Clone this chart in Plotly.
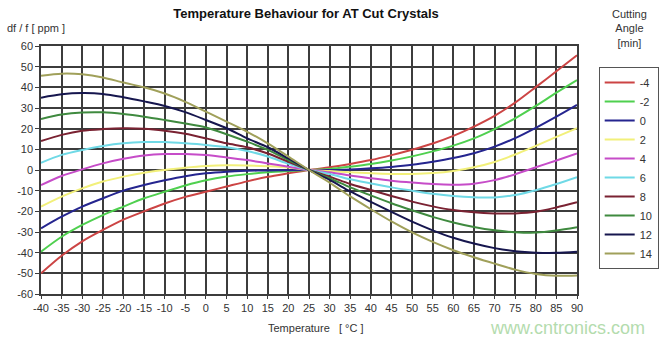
import plotly.graph_objects as go

# Temperature axis (°C)
temperature = list(range(-40, 95, 5))

# Cutting angle offsets (minutes of arc) and matching colours
angles = ["-4", "-2", "0", "2", "4", "6", "8", "10", "12", "14"]
colors = ["#cc4444", "#4fd04f", "#25258f", "#f2f07a", "#c64cc8",
          "#6fd9e6", "#7a2232", "#3f8a3f", "#16164e", "#a0a05a"]

# Frequency deviation df/f in ppm, one list per cutting angle
dev_m4 = [-50, -41.5, -34.5, -29, -24, -20, -16.2, -13, -10.5, -8, -5.5, -3.3, -1.6,
          0, 1.3, 2.9, 4.8, 7.2, 9.8, 12.8, 16.5, 21, 26.2, 32.6, 40.1, 47.8, 55.5]
dev_m2 = [-39.5, -32.3, -26.6, -21.8, -17.7, -13.7, -10.5, -7.5, -5, -3.2, -2, -1.1, -0.5,
          0, 0.5, 1.6, 2.9, 4.6, 6.6, 9, 11.8, 15.3, 19.8, 25, 31, 37.4, 43.5]
dev_0 = [-28.2, -22.6, -17.7, -13.7, -10, -7.3, -5, -3, -1.6, -0.8, -0.4, -0.2, -0.1,
         0, 0, 0.3, 0.8, 1.5, 2.5, 4, 5.8, 8.1, 11.3, 15.4, 20.4, 25.8, 31.5]
dev_2 = [-17.7, -12.9, -8.9, -5.6, -3.2, -1.3, 0, 1.1, 1.9, 2.3, 2.2, 1.8, 1.2,
         0, -0.5, -1.1, -1.6, -1.9, -1.9, -1.5, -0.5, 1.3, 3.9, 7.5, 11.7, 16, 20.2]
dev_4 = [-7.3, -2.9, 0.3, 3.2, 5.4, 7, 7.7, 7.7, 7.2, 6.1, 4.8, 3.2, 1.6,
         0, -1.1, -2.7, -4, -5.2, -6.1, -6.8, -7.1, -6.6, -4.9, -2.1, 1.3, 4.6, 8]
dev_6 = [3.5, 7.3, 9.7, 11.6, 12.9, 13.5, 13.5, 12.9, 12.1, 11, 9.2, 6.5, 3,
         0, -1.9, -4.5, -6.5, -8.4, -10, -11.5, -12.6, -13.2, -13.3, -12.1, -9.8, -6.8, -3.5]
dev_8 = [14, 17, 19, 19.8, 20.2, 20, 19, 17.5, 15.3, 12.9, 11, 8, 4,
         0, -3.2, -6.8, -9.7, -12.6, -15.3, -17.6, -19.4, -20.5, -21, -21, -20.2, -18.1, -15.6]
dev_10 = [24.7, 26.8, 27.8, 27.9, 27.1, 25.8, 24.2, 22.5, 20.6, 17.3, 13.7, 9.7, 4.8,
          0, -4, -8.4, -12.3, -16.1, -19.5, -22.7, -25.4, -27.6, -29.2, -30.1, -30.3, -29.3, -27.7]
dev_12 = [35, 36.6, 37.2, 36.8, 35.2, 33.2, 31, 28, 24.2, 20.2, 15.3, 11, 5.6,
          0, -4.8, -10.4, -15.4, -20.3, -25, -29.2, -32.8, -35.6, -37.8, -39.3, -40, -40.1, -39.5]
dev_14 = [45.6, 46.6, 46.3, 44.8, 42.3, 40, 37, 33, 28.2, 23.4, 18.5, 12.9, 6.5,
          0, -6.1, -12.8, -19, -24.9, -30.2, -34.8, -38.8, -42.2, -45.3, -48.2, -50.3, -51.2, -51]

series = [dev_m4, dev_m2, dev_0, dev_2, dev_4, dev_6, dev_8, dev_10, dev_12, dev_14]

x_ticks = list(range(-40, 95, 5))
y_ticks = list(range(-60, 70, 10))

FONT = "Liberation Sans, Arial, sans-serif"
GRID = "#3c3c3c"
TEXT = "#333333"

# plot area in pixels: left 41, right 579, top 46, bottom 294
W, H = 671, 343
L, R, T, B = 41, 92, 46, 49
PW, PH = W - L - R, H - T - B


def px_to_paper(x, y):
    return (x - L) / PW, (H - B - y) / PH


fig = go.Figure()
for name, col, ys in zip(angles, colors, series):
    fig.add_trace(go.Scatter(
        x=temperature, y=ys, name=name, mode="lines",
        line=dict(color=col, width=2, shape="spline", smoothing=0.8),
    ))

lx, ly = px_to_paper(661, 67)
fig.update_layout(
    width=W, height=H,
    margin=dict(l=L, r=R, t=T, b=B),
    paper_bgcolor="white", plot_bgcolor="white",
    font=dict(family=FONT, size=11, color=TEXT),
    title=dict(text="<b>Temperature Behaviour for AT Cut Crystals</b>",
               x=306 / W, xanchor="center", y=1 - 13 / H, yanchor="middle",
               font=dict(family=FONT, size=13, color="#111111")),
    legend=dict(
        x=lx, xanchor="right", y=ly, yanchor="top",
        bordercolor="#555555", borderwidth=1, bgcolor="white",
        font=dict(family=FONT, size=11, color=TEXT),
        itemwidth=30, tracegroupgap=0,
    ),
    showlegend=True,
)

axis_style = dict(
    showgrid=True, gridcolor=GRID, gridwidth=1.5,
    showline=True, linecolor=GRID, linewidth=1.5, mirror=True,
    ticks="outside", tickcolor=GRID, zeroline=False,
    tickfont=dict(size=11, color=TEXT),
)
fig.update_xaxes(range=[-40, 90], tickvals=x_ticks,
                 ticktext=[str(v) for v in x_ticks], ticklen=3, **axis_style)
fig.update_yaxes(range=[-60, 60], tickvals=y_ticks,
                 ticktext=[str(v) for v in y_ticks], ticklen=4, **axis_style)

labels = [
    ("df / f [ ppm ]", 5, 28, "left", 11, TEXT),
    ("Temperature &nbsp;&nbsp;[ °C ]", 317, 328, "center", 11, TEXT),
    ("Cutting<br>Angle<br>[min]", 632, 28, "center", 11, TEXT),
    ("www.cntronics.com", 569, 328, "center", 18, "#b4dcae"),
]
for text, x, y, anchor, size, col in labels:
    ax, ay = px_to_paper(x, y)
    fig.add_annotation(
        text=text, x=ax, y=ay, xref="paper", yref="paper",
        xanchor=anchor, yanchor="middle", showarrow=False,
        font=dict(family=FONT, size=size, color=col),
    )

fig.write_html("out.html")
